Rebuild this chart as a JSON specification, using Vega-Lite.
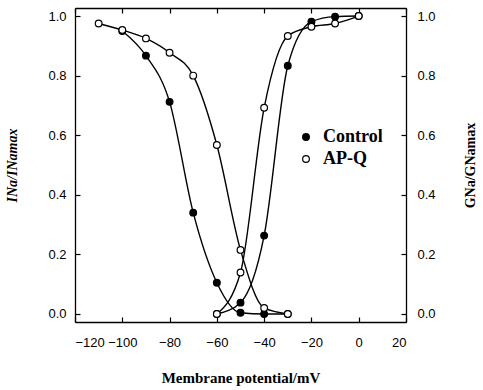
{
  "$schema": "https://vega.github.io/schema/vega-lite/v6.json",
  "width": 331,
  "height": 314,
  "autosize": "none",
  "padding": {"left": 75, "top": 8, "right": 77, "bottom": 68},
  "background": "white",
  "config": {
    "view": {"stroke": null},
    "axis": {"domainColor": "black", "domainWidth": 1.3, "tickColor": "black", "tickWidth": 1.2, "labelColor": "black", "labelFont": "Liberation Sans", "labelFontSize": 13, "grid": false, "tickSize": -5, "titleColor": "black"}
  },
  "data": {"values": [
    {"g": "Control-inact", "s": "Control", "v": -100, "y": 0.95},
    {"g": "Control-inact", "s": "Control", "v": -90, "y": 0.867},
    {"g": "Control-inact", "s": "Control", "v": -80, "y": 0.712},
    {"g": "Control-inact", "s": "Control", "v": -70, "y": 0.34},
    {"g": "Control-inact", "s": "Control", "v": -60, "y": 0.105},
    {"g": "Control-inact", "s": "Control", "v": -50, "y": 0.004},
    {"g": "Control-inact", "s": "Control", "v": -40, "y": 0.0},
    {"g": "Control-inact", "s": "Control", "v": -30, "y": 0.0},
    {"g": "Control-act", "s": "Control", "v": -60, "y": 0.0},
    {"g": "Control-act", "s": "Control", "v": -50, "y": 0.038},
    {"g": "Control-act", "s": "Control", "v": -40, "y": 0.263},
    {"g": "Control-act", "s": "Control", "v": -30, "y": 0.833},
    {"g": "Control-act", "s": "Control", "v": -20, "y": 0.981},
    {"g": "Control-act", "s": "Control", "v": -10, "y": 0.998},
    {"g": "Control-act", "s": "Control", "v": 0, "y": 1.0},
    {"g": "APQ-inact", "s": "AP-Q", "v": -110, "y": 0.975},
    {"g": "APQ-inact", "s": "AP-Q", "v": -100, "y": 0.953},
    {"g": "APQ-inact", "s": "AP-Q", "v": -90, "y": 0.925},
    {"g": "APQ-inact", "s": "AP-Q", "v": -80, "y": 0.877},
    {"g": "APQ-inact", "s": "AP-Q", "v": -70, "y": 0.8},
    {"g": "APQ-inact", "s": "AP-Q", "v": -60, "y": 0.567},
    {"g": "APQ-inact", "s": "AP-Q", "v": -50, "y": 0.215},
    {"g": "APQ-inact", "s": "AP-Q", "v": -40, "y": 0.02},
    {"g": "APQ-inact", "s": "AP-Q", "v": -30, "y": 0.0},
    {"g": "APQ-act", "s": "AP-Q", "v": -60, "y": 0.0},
    {"g": "APQ-act", "s": "AP-Q", "v": -50, "y": 0.139},
    {"g": "APQ-act", "s": "AP-Q", "v": -40, "y": 0.692},
    {"g": "APQ-act", "s": "AP-Q", "v": -30, "y": 0.933},
    {"g": "APQ-act", "s": "AP-Q", "v": -20, "y": 0.964},
    {"g": "APQ-act", "s": "AP-Q", "v": -10, "y": 0.975},
    {"g": "APQ-act", "s": "AP-Q", "v": 0, "y": 1.0}
  ]},
  "layer": [
    {
      "mark": {"type": "line", "interpolate": "monotone", "color": "black", "strokeWidth": 1.4},
      "encoding": {
        "x": {"field": "v", "type": "quantitative",
          "scale": {"domain": [-120, 20], "nice": false, "zero": false},
          "axis": {"orient": "bottom", "values": [-120, -100, -80, -60, -40, -20, 0, 20], "labelPadding": 19, "title": "Membrane potential/mV", "titleFont": "Liberation Serif", "titleFontWeight": "bold", "titleFontSize": 15, "titlePadding": 21}},
        "y": {"field": "y", "type": "quantitative",
          "scale": {"domain": [-0.027, 1.027], "nice": false, "zero": false},
          "axis": {"orient": "left", "values": [0, 0.2, 0.4, 0.6, 0.8, 1.0], "format": ".1f", "labelPadding": 14, "title": "INa/INamax", "titleFont": "Liberation Serif", "titleFontStyle": "italic", "titleFontWeight": "bold", "titleFontSize": 14, "titlePadding": 28}},
        "detail": {"field": "g", "type": "nominal"}
      }
    },
    {
      "mark": {"type": "point", "filled": true, "stroke": "black", "strokeWidth": 1.2, "size": 45, "opacity": 1},
      "encoding": {
        "x": {"field": "v", "type": "quantitative",
          "scale": {"domain": [-120, 20], "nice": false, "zero": false},
          "axis": {"orient": "top", "values": [-120, -100, -80, -60, -40, -20, 0, 20], "labels": false, "title": null}},
        "y": {"field": "y", "type": "quantitative",
          "scale": {"domain": [-0.027, 1.027], "nice": false, "zero": false},
          "axis": {"orient": "right", "values": [0, 0.2, 0.4, 0.6, 0.8, 1.0], "format": ".1f", "labelPadding": 16, "title": "GNa/GNamax", "titleAngle": 270, "titleFont": "Liberation Serif", "titleFontWeight": "bold", "titleFontSize": 14, "titlePadding": 42}},
        "fill": {"field": "s", "type": "nominal",
          "scale": {"domain": ["Control", "AP-Q"], "range": ["black", "white"]},
          "legend": {"orient": "none", "legendX": 222, "legendY": 120, "title": null, "padding": 0, "labelFont": "Liberation Serif", "labelFontWeight": "bold", "labelFontSize": 18, "labelColor": "black", "labelOffset": 8, "rowPadding": 4, "symbolType": "circle", "symbolSize": 45, "symbolStrokeColor": "black", "symbolStrokeWidth": 1.2}}
      }
    }
  ],
  "resolve": {"axis": {"x": "independent", "y": "independent"}}
}
